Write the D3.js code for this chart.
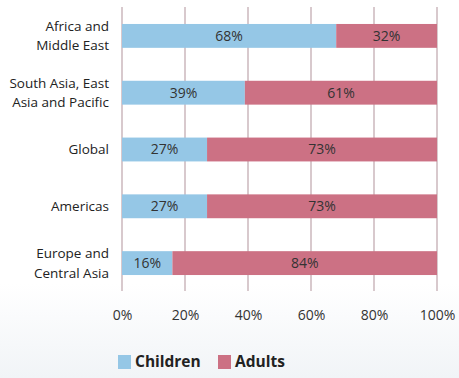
<!DOCTYPE html>
<html><head><meta charset="utf-8">
<script src="https://cdn.jsdelivr.net/npm/d3@7"></script>
<style>body{margin:0;background:#fff;}svg{display:block;font-family:"Open Sans","Noto Sans",sans-serif;}</style>
</head><body>
<svg id="c" width="459" height="378"></svg>
<script>
const categories = [["Africa and","Middle East"],["South Asia, East","Asia and Pacific"],["Global"],["Americas"],["Europe and","Central Asia"]];
const children = [68, 39, 27, 27, 16];
const adults = [32, 61, 73, 73, 84];
const ticks = [0, 20, 40, 60, 80, 100];
const seriesNames = ["Children", "Adults"];
const colors = ["#95c7e6", "#cc7184"];

const svg = d3.select("#c");
const x = d3.scaleLinear().domain([0, 100]).range([122, 437]);
const y = d3.scaleBand().domain(d3.range(categories.length)).range([7.5, 291.5]).paddingInner(0.58).paddingOuter(0.29);

// background soft gradient at bottom
const defs = svg.append("defs");
const g = defs.append("linearGradient").attr("id","bg").attr("x1",0).attr("y1",0).attr("x2",0).attr("y2",1);
g.append("stop").attr("offset","0").attr("stop-color","#ffffff");
g.append("stop").attr("offset","0.75").attr("stop-color","#ffffff");
g.append("stop").attr("offset","1").attr("stop-color","#f1f4f7");
svg.append("rect").attr("width",459).attr("height",378).attr("fill","url(#bg)");

// gridlines
svg.append("g").selectAll("line").data(ticks).join("line")
  .attr("x1", d => x(d)).attr("x2", d => x(d))
  .attr("y1", 7).attr("y2", 291)
  .attr("stroke", "#d8c9cd").attr("stroke-width", 2);

// bars
const rows = svg.append("g").selectAll("g").data(categories).join("g");
rows.append("rect").attr("x", x(0)).attr("y", (d,i) => y(i)).attr("height", y.bandwidth())
  .attr("width", (d,i) => x(children[i]) - x(0)).attr("fill", colors[0]);
rows.append("rect").attr("x", (d,i) => x(children[i])).attr("y", (d,i) => y(i)).attr("height", y.bandwidth())
  .attr("width", (d,i) => x(children[i] + adults[i]) - x(children[i])).attr("fill", colors[1]);

// value labels
rows.append("text").attr("x", (d,i) => (x(0) + x(children[i]))/2).attr("y", (d,i) => y(i) + y.bandwidth()/2)
  .attr("dy","0.35em").attr("text-anchor","middle").attr("font-size",14).attr("fill","#333")
  .text((d,i) => children[i] + "%");
rows.append("text").attr("x", (d,i) => (x(children[i]) + x(100))/2).attr("y", (d,i) => y(i) + y.bandwidth()/2)
  .attr("dy","0.35em").attr("text-anchor","middle").attr("font-size",14).attr("fill","#333")
  .text((d,i) => adults[i] + "%");

// category labels
rows.append("text").attr("text-anchor","end").attr("font-size",13.5).attr("fill","#222")
  .each(function(d,i){
    const t = d3.select(this);
    const cy = y(i) + y.bandwidth()/2;
    const lh = 19.5;
    const start = cy - (d.length-1)*lh/2;
    d.forEach((line,k) => t.append("tspan").attr("x",109).attr("y", start + k*lh).attr("dy","0.35em").text(line));
  });

// x axis
const axis = d3.axisBottom(x).tickValues(ticks).tickFormat(d => d + "%").tickSize(0).tickPadding(0);
const ax = svg.append("g").attr("transform","translate(0,310)").call(axis);
ax.select(".domain").remove();
ax.selectAll("text").attr("font-size",14).attr("fill","#333").attr("font-family",'"Open Sans","Noto Sans",sans-serif');

// legend
const leg = svg.append("g").attr("transform","translate(0,362)");
const lx = [118, 218];
seriesNames.forEach((n,i) => {
  leg.append("rect").attr("x", lx[i]).attr("y", -7).attr("width", 13).attr("height", 14).attr("fill", colors[i]);
  leg.append("text").attr("x", lx[i] + 17).attr("y", 0).attr("dy","0.35em").attr("font-size",15.5).attr("font-weight","bold").attr("fill","#222").text(n);
});
</script>
</body></html>
